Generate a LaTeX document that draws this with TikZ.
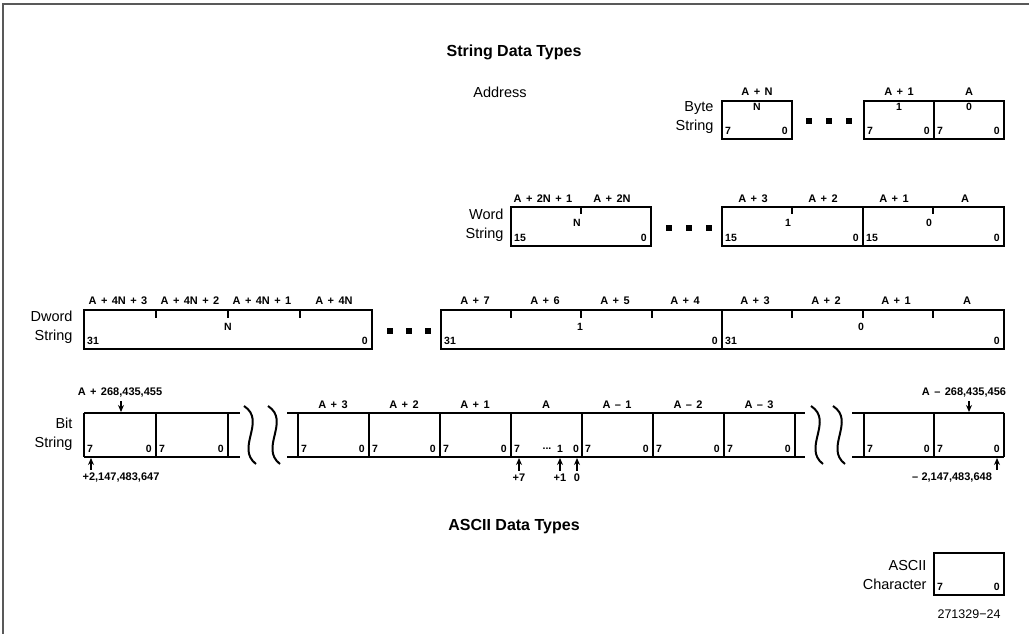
\documentclass[tikz,border=0pt]{standalone}
\usepackage{fontspec}
\setmainfont{Liberation Sans}
\usetikzlibrary{arrows.meta}
\newcommand{\pl}{\hskip0.4em+\hskip0.4em}
\newcommand{\mn}{\hskip0.4em--\hskip0.4em}

\begin{document}
\begin{tikzpicture}[x=1pt,y=-1pt,
  box/.style={line width=1.6pt},
  addr/.style={font=\fontsize{11}{13}\selectfont\bfseries},
  bitno/.style={font=\fontsize{10.5}{12}\selectfont\bfseries,inner sep=1pt},
  rowlab/.style={anchor=east,align=right,font=\fontsize{14.5}{19}\selectfont},
  title/.style={font=\fontsize{16}{19}\selectfont\bfseries},
  dot/.style={fill,minimum size=6pt,inner sep=0pt},
  ptr/.style={-{Stealth[length=7pt,width=6pt]},line width=1.4pt}]
\useasboundingbox (0,0) rectangle (1029,634);
\draw[line width=1.6pt,black!65] (3,634) -- (3,4) -- (1029,4);

\node[title] (strtitle) at (514,52) {String Data Types};
\node[font=\fontsize{14.5}{16}\selectfont] (address) at (500,92) {Address};

% byte string
\node[rowlab] (byte) at (717,118) {Byte\\String};
\draw[box] (722,101) rectangle (792,139);
\draw[box] (864,101) rectangle (1004,139) (934,101) -- (934,139);
\node[addr] (bn) at (757,92) {A\pl N};
\node[addr] (b1) at (899,92) {A\pl 1};
\node[addr] (b0) at (969,92) {A};
\node[bitno] (bnv) at (757,107) {N};
\node[bitno] (b1v) at (899,107) {1};
\node[bitno] (b0v) at (969,107) {0};
\foreach \l/\r in {722/792,864/934,934/1004}{
  \node[bitno,anchor=west] (bh\l) at (\l+2,131) {7};
  \node[bitno,anchor=east] (bl\l) at (\r-3,131) {0};
}
\foreach \x in {809,829,849} \node[dot] (bd\x) at (\x,121) {};

% word string
\node[rowlab] (word) at (507,225) {Word\\String};
\draw[box] (511,207) rectangle (651,246);
\draw[box] (722,207) rectangle (1004,246) (863,207) -- (863,246);
\foreach \x in {581,792,933} \draw[box] (\x,207) -- (\x,214);
\node[addr] (w2n1) at (543,199) {A\pl 2N\pl 1};
\node[addr] (w2n) at (612,199) {A\pl 2N};
\node[addr] (w3) at (753,199) {A\pl 3};
\node[addr] (w2) at (823,199) {A\pl 2};
\node[addr] (w1) at (894,199) {A\pl 1};
\node[addr] (w0) at (965,199) {A};
\node[bitno] (wnv) at (577,223) {N};
\node[bitno] (w1v) at (788,223) {1};
\node[bitno] (w0v) at (929,223) {0};
\foreach \l/\r in {511/651,722/863,863/1004}{
  \node[bitno,anchor=west] (wh\l) at (\l+2,238) {15};
  \node[bitno,anchor=east] (wl\l) at (\r-3,238) {0};
}
\foreach \x in {669,689,709} \node[dot] (wd\x) at (\x,228) {};

% dword string
\node[rowlab] (dword) at (76,327) {Dword\\String};
\draw[box] (84,310) rectangle (372,349);
\draw[box] (441,310) rectangle (1004,349) (722,310) -- (722,349);
\foreach \x in {156,228,300,511,581,652,792,863,933} \draw[box] (\x,310) -- (\x,318);
\node[addr] (d4n3) at (118,301) {A\pl 4N\pl 3};
\node[addr] (d4n2) at (190,301) {A\pl 4N\pl 2};
\node[addr] (d4n1) at (262,301) {A\pl 4N\pl 1};
\node[addr] (d4n) at (334,301) {A\pl 4N};
\foreach \x/\n in {475/7,545/6,615/5,685/4,755/3,826/2,896/1}
  \node[addr] (d\n) at (\x,301) {A\pl \n};
\node[addr] (d0) at (967,301) {A};
\node[bitno] (dnv) at (228,327) {N};
\node[bitno] (d1v) at (580,327) {1};
\node[bitno] (d0v) at (861,327) {0};
\foreach \l/\r in {84/372,441/722,722/1004}{
  \node[bitno,anchor=west] (dh\l) at (\l+2,341) {31};
  \node[bitno,anchor=east] (dl\l) at (\r-3,341) {0};
}
\foreach \x in {390,409,428} \node[dot] (dd\x) at (\x,331) {};

% bit string
\node[rowlab] (bit) at (76,434) {Bit\\String};
\draw[box] (84,413) -- (240,413) (84,457) -- (240,457)
  (287,413) -- (805,413) (287,457) -- (805,457)
  (852,413) -- (1004,413) (852,457) -- (1004,457);
\foreach \x in {84,156,228,298,369,440,511,582,653,724,795,864,934,1004}
  \draw[box] (\x,413) -- (\x,457);
\foreach \x in {243,267,810,832}
  \draw[line width=2pt] (\x+1,406) .. controls (\x+24,421) and (\x-8,448) .. (\x+13,464);
\foreach \l/\r in {84/156,156/228,298/369,369/440,440/511,582/653,653/724,724/795,864/934,934/1004}{
  \node[bitno,anchor=west] (ih\l) at (\l+2,449) {7};
  \node[bitno,anchor=east] (il\l) at (\r-3,449) {0};
}
\node[bitno,anchor=west] (ia7) at (513,449) {7};
\node[bitno] (iadots) at (547,449) {...};
\node[bitno] (ia1) at (560,449) {1};
\node[bitno] (ia0) at (576,449) {0};
\node[addr] (i3) at (333,405) {A\pl 3};
\node[addr] (i2) at (404,405) {A\pl 2};
\node[addr] (i1) at (475,405) {A\pl 1};
\node[addr] (ia) at (546,405) {A};
\node[addr] (im1) at (617,405) {A\mn 1};
\node[addr] (im2) at (688,405) {A\mn 2};
\node[addr] (im3) at (759,405) {A\mn 3};
\node[addr] (ihi) at (120,393) {A\pl 268,435,455};
\node[addr] (ilo) at (964,393) {A\mn 268,435,456};
\coordinate (ihit) at (121,412);
\coordinate (ilot) at (969,412);
\draw[ptr] (ihi.south -| ihit) -- (ihit);
\draw[ptr] (ilo.south -| ilot) -- (ilot);
\node[addr] (pmax) at (121,478) {+2,147,483,647};
\node[addr] (pmin) at (952,478) {--\hskip0.3em2,147,483,648};
\node[addr] (p7) at (519,478) {+7};
\node[addr] (p1) at (560,478) {+1};
\node[addr] (p0) at (577,478) {0};
\coordinate (pmaxt) at (91,458);
\coordinate (pmint) at (997,458);
\coordinate (p7t) at (519,458);
\coordinate (p1t) at (560,458);
\coordinate (p0t) at (577,458);
\draw[ptr] (pmax.north -| pmaxt) -- (pmaxt);
\draw[ptr] (pmin.north -| pmint) -- (pmint);
\draw[ptr] (p7) -- (p7t);
\draw[ptr] (p1) -- (p1t);
\draw[ptr] (p0) -- (p0t);

% ascii
\node[title] (asctitle) at (514,527) {ASCII Data Types};
\node[rowlab] (chr) at (930,575) {ASCII\\Character};
\draw[box] (934,553) rectangle (1004,595);
\node[bitno,anchor=west] (ch) at (936,587) {7};
\node[bitno,anchor=east] (cl) at (1001,587) {0};
\node[anchor=east,font=\fontsize{12.5}{14}\selectfont] (fig) at (1004,614) {271329−24};
\end{tikzpicture}
\end{document}
